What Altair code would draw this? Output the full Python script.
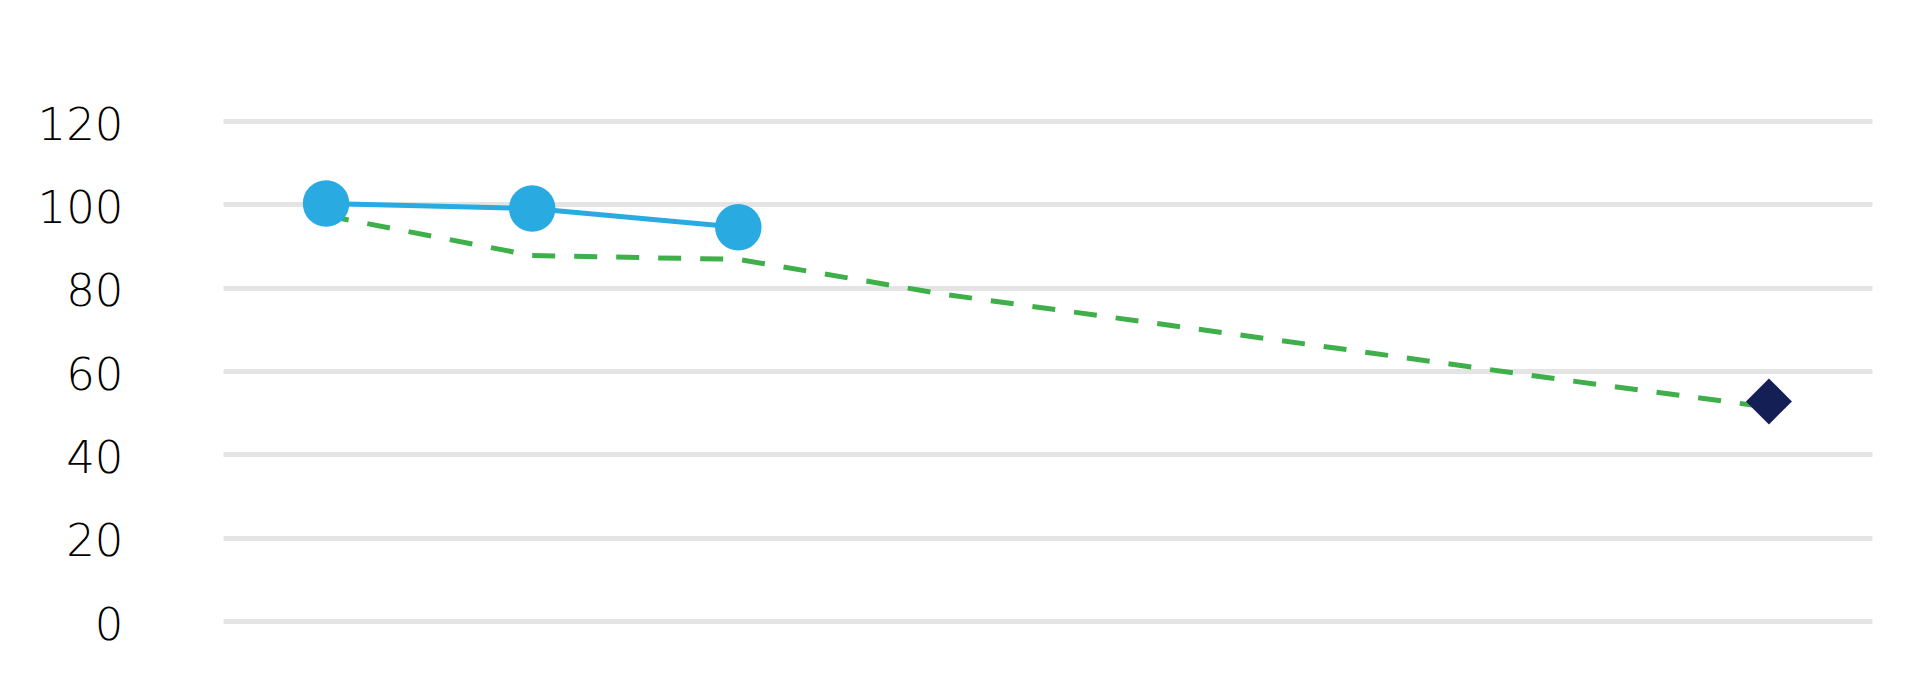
import altair as alt
import pandas as pd

# Categories along the (unlabelled) horizontal axis
categories = [0, 1, 2, 3, 4, 5, 6, 7]

# Dashed green series (one value per category)
green_values = [97.3, 87.7, 86.8, 78.4, 71.6, 64.8, 57.9, 51.3]

# Solid blue series with circle markers
blue_categories = [0, 1, 2]
blue_values = [100.2, 99.0, 94.5]

# Single navy diamond
diamond_categories = [7]
diamond_values = [52.7]

y_ticks = [0, 20, 40, 60, 80, 100, 120]

green_df = pd.DataFrame({"cat": categories, "value": green_values})
blue_df = pd.DataFrame({"cat": blue_categories, "value": blue_values})
diamond_df = pd.DataFrame({"cat": diamond_categories, "value": diamond_values})

x_enc = alt.X(
    "cat:O",
    scale=alt.Scale(type="point", padding=0.5, domain=categories),
    axis=None,
)
y_scale = alt.Scale(domain=[0, 120], nice=False, zero=True)
y_enc = alt.Y(
    "value:Q",
    scale=y_scale,
    axis=alt.Axis(
        values=y_ticks,
        title=None,
        domain=False,
        ticks=False,
        tickSize=0,
        labelPadding=100,
        labelOffset=4,
        labelFont="DejaVu Sans",
        labelFontWeight=200,
        labelFontSize=45,
        labelColor="#000000",
        labelBaseline="middle",
        grid=True,
        gridColor="#E4E4E4",
        gridWidth=5,
    ),
)

green = alt.Chart(green_df).mark_line(
    color="#3FAF4A", strokeWidth=5, strokeDash=[23, 19]
).encode(x=x_enc, y=y_enc)

blue_line = alt.Chart(blue_df).mark_line(
    color="#29ABE2", strokeWidth=5
).encode(x=x_enc, y=y_enc)

blue_pts = alt.Chart(blue_df).mark_point(
    shape="circle", filled=True, color="#29ABE2", opacity=1, size=2160
).encode(x=x_enc, y=y_enc)

diamond = alt.Chart(diamond_df).mark_point(
    shape="diamond", filled=True, color="#141F55", opacity=1, size=2116
).encode(x=x_enc, y=y_enc)

chart = (
    alt.layer(green, blue_line, blue_pts, diamond)
    .properties(
        width=1649,
        height=500,
        background="white",
        autosize=alt.AutoSizeParams(type="none"),
        padding={"left": 215, "top": 113, "right": 40, "bottom": 40},
    )
    .configure_view(stroke="transparent", strokeWidth=0)
)

chart.save("out.html", embed_options={"renderer": "svg", "actions": False})
